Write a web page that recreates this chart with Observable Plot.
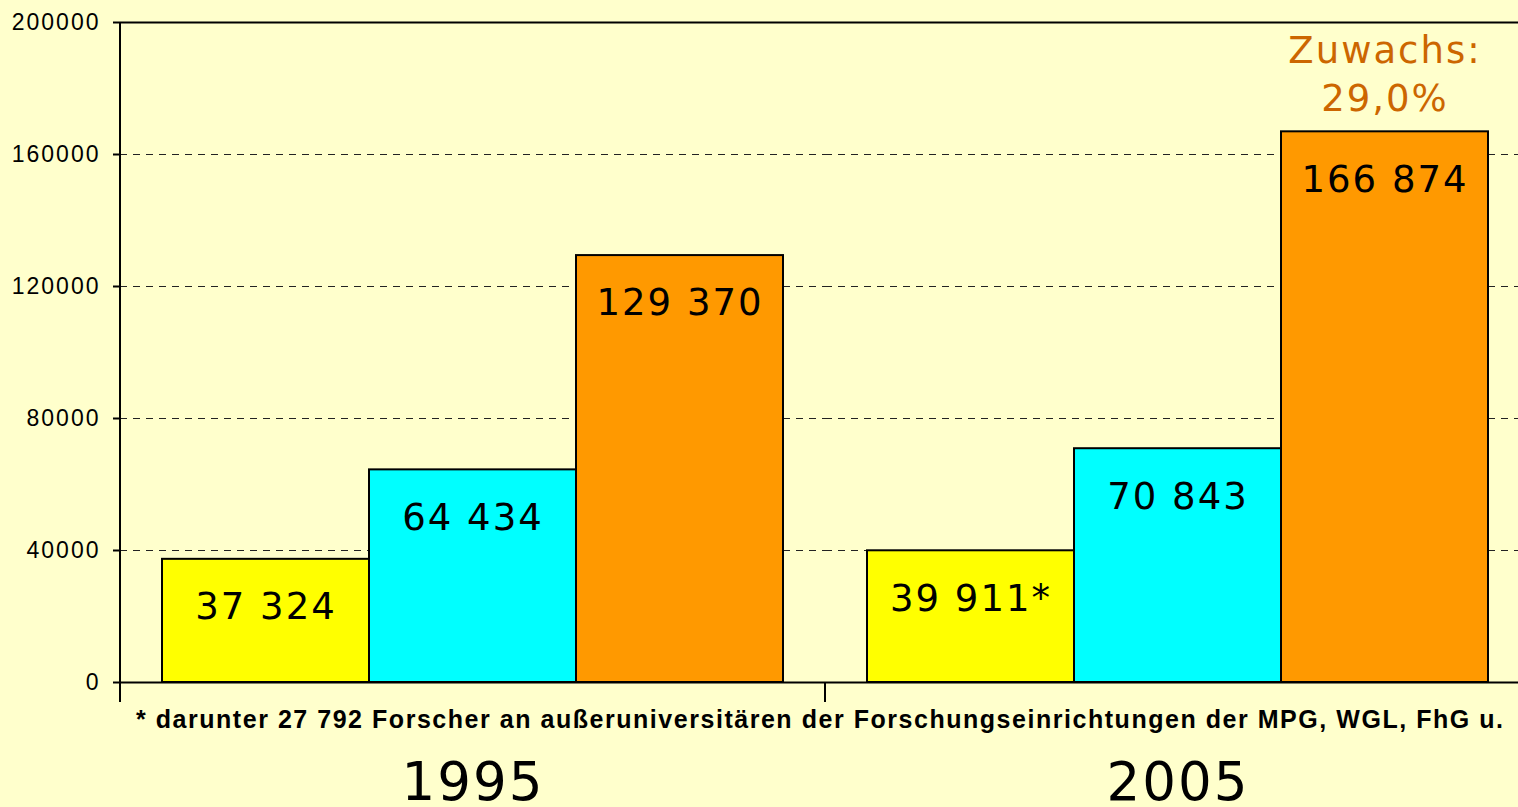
<!DOCTYPE html>
<html><head><meta charset="utf-8">
<script src="https://cdn.jsdelivr.net/npm/d3@7"></script>
<script src="https://cdn.jsdelivr.net/npm/@observablehq/plot@0.6"></script>
<style>html,body{margin:0;padding:0;background:#FFFFCC;overflow:hidden;}</style>
</head><body><div id="chart"></div>
<script>
const years = ["1995", "2005"];
const seriesKeys = ["s1", "s2", "s3"];
const values1995 = [37324, 64434, 129370];
const values2005 = [39911, 70843, 166874];
const labels1995 = ["37 324", "64 434", "129 370"];
const labels2005 = ["39 911*", "70 843", "166 874"];
const seriesColors = ["#FFFF00", "#00FFFF", "#FF9900"];
const yTicks = [0, 40000, 80000, 120000, 160000, 200000];
const gridTicks = [40000, 80000, 120000, 160000];
const growthLines = ["Zuwachs:", "29,0%"];
const footnote = "* darunter 27 792 Forscher an außeruniversitären der Forschungseinrichtungen der MPG, WGL, FhG u.";

const valuesByYear = [values1995, values2005];
const labelsByYear = [labels1995, labels2005];
const data = years.flatMap((yr, i) => seriesKeys.map((s, j) => ({
  year: yr, series: s, value: valuesByYear[i][j], label: labelsByYear[i][j]
})));
const growthBar = data.filter(d => d.year === "2005" && d.series === "s3");

const plot = Plot.plot({
  width: 1530, height: 807,
  marginLeft: 120, marginRight: 0, marginTop: 22, marginBottom: 125,
  style: {background: "#FFFFCC", fontFamily: "'DejaVu Sans', sans-serif", letterSpacing: "2px", overflow: "visible", maxWidth: "none"},
  fx: {domain: years, paddingInner: 0, paddingOuter: 0, axis: null, label: null},
  x: {domain: seriesKeys, paddingInner: 0, paddingOuter: 0.2, axis: null, label: null},
  y: {domain: [0, 200000], axis: null},
  color: {domain: seriesKeys, range: seriesColors},
  marks: [
    Plot.ruleY(gridTicks, {stroke: "#222", strokeWidth: 1, strokeDasharray: "7,6"}),
    Plot.barY(data, {fx: "year", x: "series", y: "value", fill: "series", stroke: "#000", strokeWidth: 2}),
    Plot.ruleY([0, 200000], {stroke: "#000", strokeWidth: 2}),
    Plot.axisY({anchor: "left", ticks: yTicks, tickSize: 7, tickPadding: 13, tickFormat: d3.format("d"),
      fontSize: 23, fontFamily: "'Liberation Sans', Arial, sans-serif", stroke: "#000", strokeWidth: 2, color: "#000", label: null}),
    Plot.text(data, {fx: "year", x: "series", y: "value", text: "label", dy: 48, lineAnchor: "middle", fontSize: 37, fill: "#000"}),
    Plot.text(years, {fx: d => d, text: d => d, frameAnchor: "bottom", dy: 101, lineAnchor: "middle", fontSize: 53, fill: "#000"}),
    Plot.text(growthBar, {fx: "year", x: "series", y: "value", text: () => growthLines[0], dy: -81, lineAnchor: "middle", fontSize: 37, fill: "#CC6600"}),
    Plot.text(growthBar, {fx: "year", x: "series", y: "value", text: () => growthLines[1], dy: -33, lineAnchor: "middle", fontSize: 37, fill: "#CC6600"})
  ]
});
plot.style.maxWidth = "none";

const svg = d3.select(plot);
const y = plot.scale("y");
const fx = plot.scale("fx");
const y0 = y.apply(0), yTop = y.apply(200000);
svg.append("line").attr("x1", 120).attr("x2", 120).attr("y1", yTop).attr("y2", y0 + 20)
  .attr("stroke", "#000").attr("stroke-width", 2);
const xSep = fx.apply("2005");
svg.append("line").attr("x1", xSep).attr("x2", xSep).attr("y1", y0).attr("y2", y0 + 20)
  .attr("stroke", "#000").attr("stroke-width", 2);
svg.append("text").attr("x", 136).attr("y", 728)
  .attr("text-anchor", "start")
  .attr("textLength", 1367).attr("lengthAdjust", "spacing")
  .attr("font-weight", "bold").attr("font-family", "'Liberation Sans', Arial, sans-serif")
  .attr("font-size", 25).style("letter-spacing", "0px").attr("fill", "#000").text(footnote);

document.getElementById("chart").appendChild(plot);
</script></body></html>
